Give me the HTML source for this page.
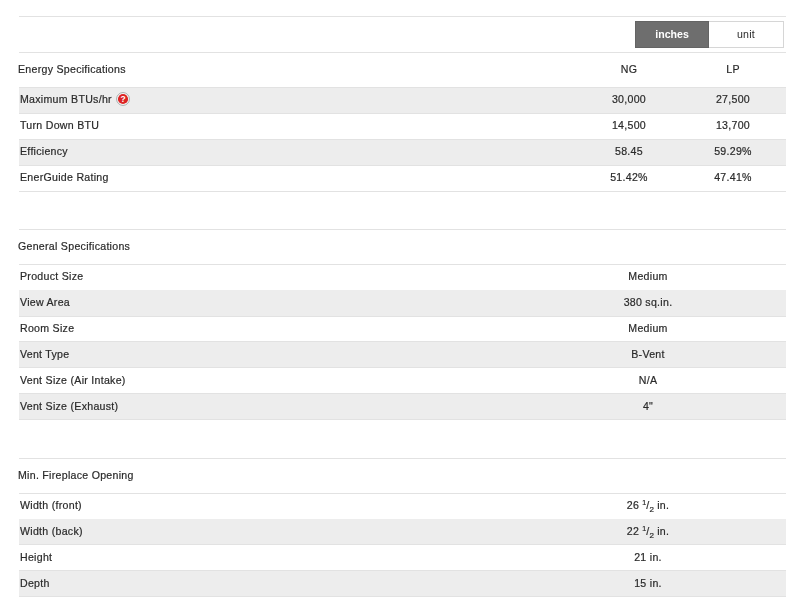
<!DOCTYPE html>
<html><head><meta charset="utf-8"><style>
html,body{margin:0;padding:0;background:#fff;width:800px;height:605px;overflow:hidden;position:relative}
body{font-family:"Liberation Sans",sans-serif;color:#2a2a2a;font-size:10.6px}
.ln{position:absolute;left:19.0px;width:767.0px}
.bd{position:absolute;left:19.0px;width:767.0px;background:#ededed}
.t{position:absolute;white-space:nowrap;will-change:transform;-webkit-text-stroke:0.2px #2a2a2a;line-height:0;height:0;letter-spacing:0.28px}
.c{width:200px;text-align:center}
sup,sub{font-size:7px;line-height:0;position:relative;vertical-align:baseline;letter-spacing:0}
sup{top:-4px} sub{top:3px;font-size:8px}
.tog{position:absolute;left:635px;top:21px;width:149px;height:27px;will-change:transform}
.tog .on{position:absolute;left:0;top:0;width:72px;height:25px;border:1px solid #646464;background:#6e6e6e;color:#fff;font-weight:bold;text-align:center;line-height:25px}
.tog .off{position:absolute;left:74px;top:0;width:74px;height:25px;border:1px solid #d6d6d6;border-left:none;background:#fff;text-align:center;line-height:25px;letter-spacing:0.28px}
</style></head><body>
<div class="ln" style="top:16.00px;height:1.0px;background:#e2e2e2"></div><div class="ln" style="top:52.30px;height:1.0px;background:#e2e2e2"></div><div class="t" style="left:18.20px;top:69px">Energy Specifications</div><div class="ln" style="top:87.20px;height:1.0px;background:#e2e2e2"></div><div class="bd" style="top:87.80px;height:25.93px"></div><div class="ln" style="top:113.13px;height:1.0px;background:#e2e2e2"></div><div class="t" style="left:19.70px;top:99px">Maximum BTUs/hr</div><div class="t c" style="left:528.50px;top:99px">30,000</div><div class="t c" style="left:633.10px;top:99px">27,500</div><div class="ln" style="top:139.06px;height:1.0px;background:#e2e2e2"></div><div class="t" style="left:19.70px;top:125px">Turn Down BTU</div><div class="t c" style="left:528.50px;top:125px">14,500</div><div class="t c" style="left:633.10px;top:125px">13,700</div><div class="bd" style="top:139.66px;height:25.93px"></div><div class="ln" style="top:164.99px;height:1.0px;background:#e2e2e2"></div><div class="t" style="left:19.70px;top:151px">Efficiency</div><div class="t c" style="left:528.50px;top:151px">58.45</div><div class="t c" style="left:633.10px;top:151px">59.29%</div><div class="ln" style="top:190.92px;height:1.0px;background:#e2e2e2"></div><div class="t" style="left:19.70px;top:177px">EnerGuide Rating</div><div class="t c" style="left:528.50px;top:177px">51.42%</div><div class="t c" style="left:633.10px;top:177px">47.41%</div><div class="t c" style="left:528.50px;top:69px">NG</div><div class="t c" style="left:633.10px;top:69px">LP</div><div class="ln" style="top:228.80px;height:1.0px;background:#e2e2e2"></div><div class="t" style="left:18.20px;top:246px">General Specifications</div><div class="ln" style="top:263.70px;height:1.0px;background:#e2e2e2"></div><div class="ln" style="top:289.63px;height:1.0px;background:#e2e2e2"></div><div class="t" style="left:19.70px;top:276px">Product Size</div><div class="t c" style="left:547.50px;top:276px">Medium</div><div class="bd" style="top:290.23px;height:25.93px"></div><div class="ln" style="top:315.56px;height:1.0px;background:#e2e2e2"></div><div class="t" style="left:19.70px;top:302px">View Area</div><div class="t c" style="left:547.50px;top:302px">380 sq.in.</div><div class="ln" style="top:341.49px;height:1.0px;background:#e2e2e2"></div><div class="t" style="left:19.70px;top:328px">Room Size</div><div class="t c" style="left:547.50px;top:328px">Medium</div><div class="bd" style="top:342.09px;height:25.93px"></div><div class="ln" style="top:367.42px;height:1.0px;background:#e2e2e2"></div><div class="t" style="left:19.70px;top:354px">Vent Type</div><div class="t c" style="left:547.50px;top:354px">B-Vent</div><div class="ln" style="top:393.35px;height:1.0px;background:#e2e2e2"></div><div class="t" style="left:19.70px;top:380px">Vent Size (Air Intake)</div><div class="t c" style="left:547.50px;top:380px">N/A</div><div class="bd" style="top:393.95px;height:25.93px"></div><div class="ln" style="top:419.28px;height:1.0px;background:#e2e2e2"></div><div class="t" style="left:19.70px;top:406px">Vent Size (Exhaust)</div><div class="t c" style="left:547.50px;top:406px">4"</div><div class="ln" style="top:457.70px;height:1.0px;background:#e2e2e2"></div><div class="t" style="left:18.20px;top:475px">Min. Fireplace Opening</div><div class="ln" style="top:492.60px;height:1.0px;background:#e2e2e2"></div><div class="ln" style="top:518.53px;height:1.0px;background:#e2e2e2"></div><div class="t" style="left:19.70px;top:505px">Width (front)</div><div class="t c" style="left:547.50px;top:505px">26 <sup>1</sup>/<sub>2</sub> in.</div><div class="bd" style="top:519.13px;height:25.93px"></div><div class="ln" style="top:544.46px;height:1.0px;background:#e2e2e2"></div><div class="t" style="left:19.70px;top:531px">Width (back)</div><div class="t c" style="left:547.50px;top:531px">22 <sup>1</sup>/<sub>2</sub> in.</div><div class="ln" style="top:570.39px;height:1.0px;background:#e2e2e2"></div><div class="t" style="left:19.70px;top:557px">Height</div><div class="t c" style="left:547.50px;top:557px">21 in.</div><div class="bd" style="top:570.99px;height:25.93px"></div><div class="ln" style="top:596.32px;height:1.0px;background:#e2e2e2"></div><div class="t" style="left:19.70px;top:583px">Depth</div><div class="t c" style="left:547.50px;top:583px">15 in.</div>
<svg style="position:absolute;left:116px;top:92px" width="14" height="14" viewBox="0 0 14 14"><circle cx="7" cy="7" r="6.4" fill="#fff" stroke="#a3a8a8" stroke-width="1"/><circle cx="7" cy="7" r="5.1" fill="#dc2424"/><text x="7" y="10.2" font-family="Liberation Sans" font-size="8.5" font-weight="bold" text-anchor="middle" fill="#fff">?</text></svg>
<div class="tog"><div class="on">inches</div><div class="off">unit</div></div>
</body></html>
